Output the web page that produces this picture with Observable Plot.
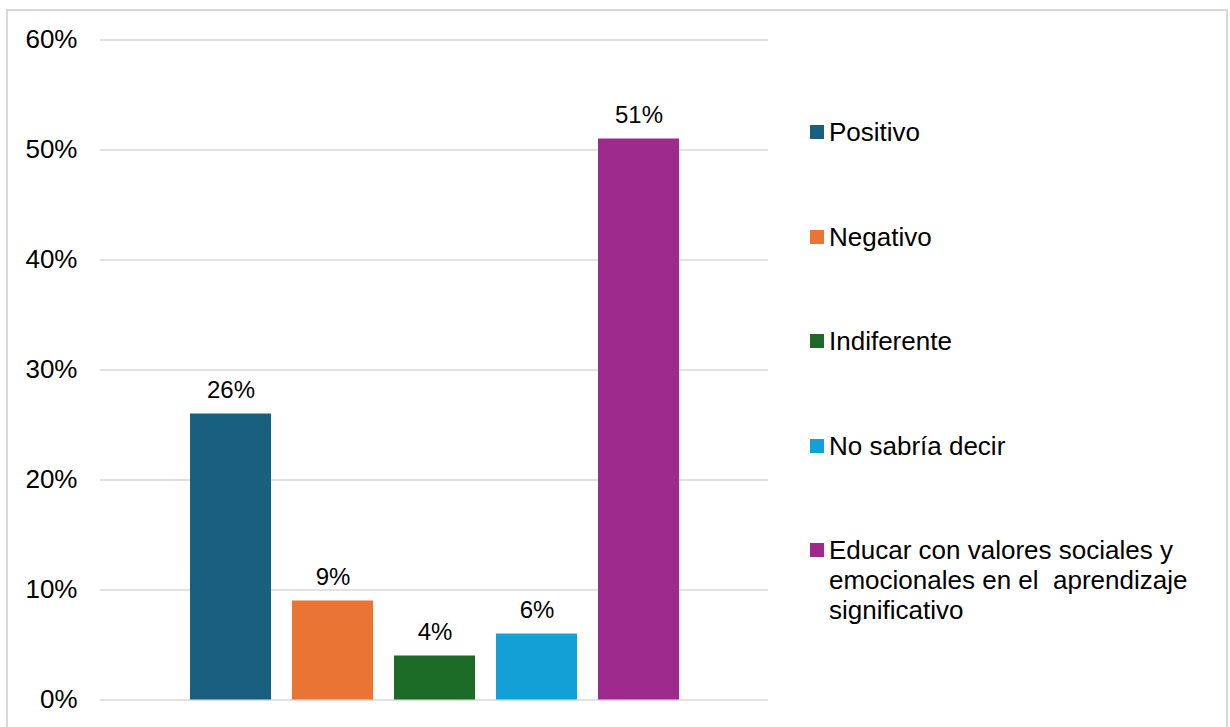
<!DOCTYPE html>
<html>
<head>
<meta charset="utf-8">
<script src="https://cdn.jsdelivr.net/npm/d3@7"></script>
<script src="https://cdn.jsdelivr.net/npm/@observablehq/plot@0.6"></script>
<style>
  body { margin: 0; background: #fff; font-family: "Liberation Sans", Arial, sans-serif; }
  #wrap { position: relative; width: 1230px; height: 727px; overflow: hidden; background: #fff; }
  #frame { position: absolute; left: 6px; top: 9px; width: 1222px; height: 740px; border: 2px solid #d9d9d9; box-sizing: border-box; pointer-events: none; }
  #chart { position: absolute; left: 0; top: 0; }
  #legend { position: absolute; left: 810px; top: 117px; width: 412px; }
  .item { position: relative; height: 104.5px; }
  .sw { position: absolute; left: 0; top: 8px; width: 14px; height: 14px; }
  .lab { position: absolute; left: 19px; top: 0; width: 394px; font-size: 26px; line-height: 30px; color: #000; white-space: pre-wrap; }
</style>
</head>
<body>
<div id="wrap">
  <div id="frame"></div>
  <div id="chart"></div>
  <div id="legend"></div>
</div>
<script>
const categories = ["Positivo", "Negativo", "Indiferente", "No sabría decir", "Educar con valores sociales y emocionales en el  aprendizaje significativo"];
const values = [26, 9, 4, 6, 51];
const colors = ["#185f80", "#e97434", "#1b6b27", "#12a0d7", "#9e2a8e"];
const yTicks = [0, 10, 20, 30, 40, 50, 60];

const data = categories.map((c, i) => ({category: c, value: values[i]}));

const chart = Plot.plot({
  width: 1230,
  height: 727,
  marginLeft: 100,
  marginRight: 462,
  marginTop: 39.5,
  marginBottom: 27.5,
  style: {fontFamily: '"Liberation Sans", Arial, sans-serif', color: "#000", background: "transparent", overflow: "visible"},
  x: {domain: categories, range: [167.5, 701.5], padding: 0.21, axis: null},
  y: {domain: [0, 60], axis: null},
  color: {domain: categories, range: colors},
  marks: [
    Plot.ruleY(yTicks, {stroke: "#d9d9d9", strokeWidth: 1.4}),
    Plot.axisY({ticks: yTicks, tickFormat: d => d + "%", tickSize: 0, tickPadding: 23, label: null, fontSize: 26, fill: "#000"}),
    Plot.barY(data, {x: "category", y: "value", fill: "category"}),
    Plot.text(data, {x: "category", y: "value", text: d => d.value + "%", dy: -16, lineAnchor: "bottom", fontSize: 24, fill: "#000"})
  ]
});
document.getElementById("chart").appendChild(chart);

const legend = document.getElementById("legend");
categories.forEach((c, i) => {
  const item = document.createElement("div");
  item.className = "item";
  const sw = document.createElement("div");
  sw.className = "sw";
  sw.style.background = colors[i];
  const lab = document.createElement("div");
  lab.className = "lab";
  lab.textContent = c;
  item.appendChild(sw);
  item.appendChild(lab);
  legend.appendChild(item);
});
</script>
</body>
</html>
